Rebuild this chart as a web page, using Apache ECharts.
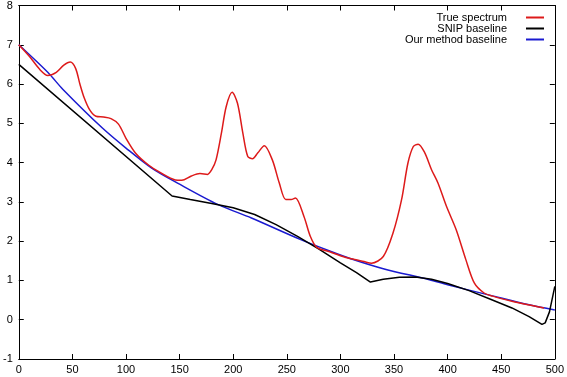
<!DOCTYPE html>
<html>
<head>
<meta charset="utf-8">
<script src="https://cdn.jsdelivr.net/npm/echarts@6/dist/echarts.min.js"></script>
<style>
  html, body { margin: 0; padding: 0; background: #fff; }
  #container { width: 567px; height: 377px; }
</style>
</head>
<body>
<div id="container"></div>
<script>
// values: [x, y]
var trueSpectrum = [
  [0, 7.0], [10, 6.7], [20, 6.36], [27, 6.22], [35, 6.3], [42, 6.48], [48, 6.56], [53, 6.4],
  [57, 6.0], [61, 5.65], [66, 5.35], [72, 5.18], [79, 5.16], [86, 5.12], [93, 4.98], [100, 4.62],
  [109, 4.24], [121, 3.94], [133, 3.73], [146, 3.56], [152, 3.55], [161, 3.66], [169, 3.72],
  [176, 3.7], [180, 3.82], [184, 4.07], [189, 4.75], [193.5, 5.43], [199, 5.79], [204, 5.51],
  [209, 4.75], [213.5, 4.16], [218, 4.1], [223, 4.25], [229, 4.43], [236.5, 4.07], [243, 3.48],
  [249, 3.06], [254, 3.06], [258, 3.1], [266, 2.63], [272, 2.12], [278, 1.84], [290, 1.73],
  [300, 1.63], [310, 1.55], [322, 1.48], [329, 1.44], [340, 1.61], [349, 2.2], [357, 3.05],
  [363, 3.99], [368, 4.41], [372.5, 4.47], [378.5, 4.26], [385, 3.82], [391, 3.48], [399, 2.88],
  [408, 2.29], [417, 1.53], [425, 0.93], [434, 0.68], [442, 0.6], [460, 0.47], [475, 0.38],
  [490, 0.3]
];
var snipBaseline = [
  [0, 6.5], [143, 3.15], [160, 3.06], [180, 2.96], [200, 2.85], [220, 2.68], [240, 2.42],
  [260, 2.12], [280, 1.8], [300, 1.45], [315, 1.2], [328, 0.96], [340, 1.03], [355, 1.08],
  [370, 1.09], [385, 1.03], [400, 0.92], [420, 0.74], [440, 0.52], [460, 0.3], [476, 0.08],
  [488, -0.12], [491, -0.08], [495, 0.2], [500, 0.85]
];
var ourBaseline = [
  [0, 7.0], [27, 6.3], [41, 5.87], [78, 4.88], [100, 4.37], [124, 3.86], [150, 3.45],
  [186, 2.93], [217, 2.59], [263, 2.04], [291, 1.74], [309, 1.56], [340, 1.3], [383, 1.02],
  [400, 0.89], [440, 0.62], [476, 0.38], [500, 0.25]
];
var seriesNames = ['True spectrum', 'SNIP baseline', 'Our method baseline'];
var seriesColors = ['#dd1a1a', '#000000', '#1a1ad0'];

var myChart = echarts.init(document.getElementById('container'));
var font = 'Liberation Sans, Arial, sans-serif';
var axisBase = {
  axisLine: { show: true, onZero: false, lineStyle: { color: '#000', width: 1 } },
  axisTick: { show: true, inside: true, length: 5, lineStyle: { color: '#000' } },
  splitLine: { show: false }
};
var label = { color: '#000', fontSize: 11, fontFamily: font };

myChart.setOption({
  animation: false,
  backgroundColor: '#fff',
  grid: { left: 16, right: 11, top: 5, bottom: 18 },
  legend: {
    orient: 'vertical', right: 18, top: 7, align: 'right',
    icon: 'rect', itemWidth: 18, itemHeight: 2, itemGap: 0,
    textStyle: { color: '#000', fontSize: 11, fontFamily: font, padding: [0, 14, 0, 0] },
    data: seriesNames
  },
  xAxis: [
    Object.assign({ type: 'value', min: 0, max: 500, interval: 50, position: 'bottom',
      axisLabel: Object.assign({ margin: 5 }, label) }, axisBase),
    Object.assign({ type: 'value', min: 0, max: 500, interval: 50, position: 'top',
      axisLabel: { show: false } }, axisBase)
  ],
  yAxis: [
    Object.assign({ type: 'value', min: -1, max: 8, interval: 1, position: 'left',
      axisLabel: Object.assign({ margin: 6 }, label) }, axisBase),
    Object.assign({ type: 'value', min: -1, max: 8, interval: 1, position: 'right',
      axisLabel: { show: false } }, axisBase)
  ],
  series: [trueSpectrum, snipBaseline, ourBaseline].map(function (d, i) {
    return {
      name: seriesNames[i], type: 'line', data: d, smooth: i === 1 ? false : 0.3,
      showSymbol: false, symbol: 'none', z: 3 - i,
      lineStyle: { color: seriesColors[i], width: 1.5 },
      itemStyle: { color: seriesColors[i] }
    };
  })
});
</script>
</body>
</html>
